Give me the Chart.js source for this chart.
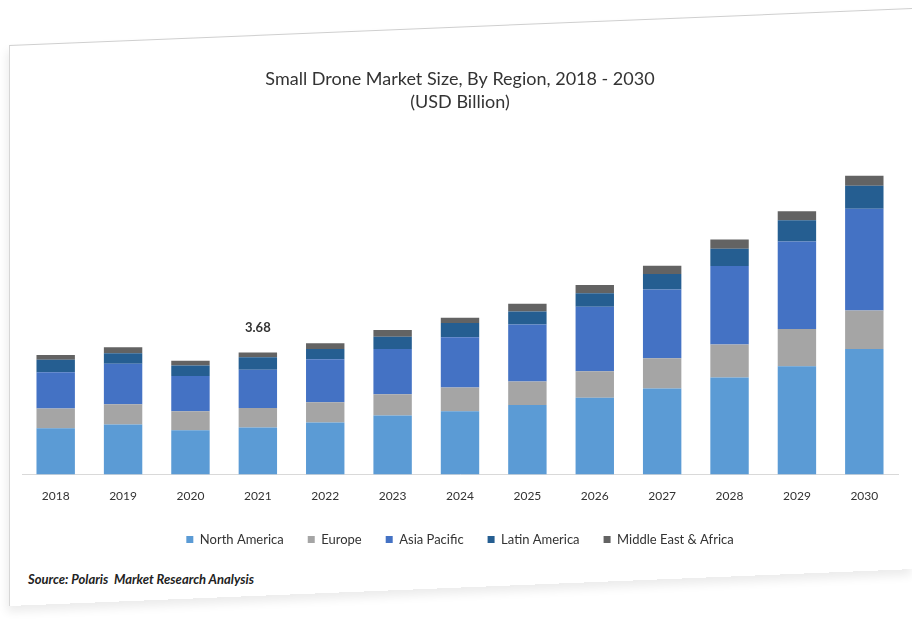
<!DOCTYPE html>
<html>
<head>
<meta charset="utf-8">
<script src="https://cdn.jsdelivr.net/npm/chart.js@4"></script>
<style>
  html, body { margin:0; padding:0; background:#fff; }
  body { width:912px; height:639px; position:relative; overflow:hidden; font-family:Lato, "Open Sans", sans-serif; }
  /* 紙の縁（少し傾いた枠） */
  .paper {
    position:absolute; left:9px; top:45px; width:903px; height:560px;
    border-top:1px solid #cfcfcf; border-left:1px solid #d6d6d6;
    transform-origin:top left; transform:skewY(-2.34deg);
    box-shadow:-2px 6px 10px rgba(0,0,0,.08);
  }
  #wrap { position:absolute; left:0; top:0; width:912px; height:562px; }
  .source {
    position:absolute; left:28px; top:571px;
    font-family:Lato, sans-serif; font-weight:bold; font-style:italic;
    font-size:13px; color:#222;
  }
</style>
</head>
<body>
<div class="paper"></div>
<div id="wrap"><canvas id="chartDrone"></canvas></div>
<div class="source">Source: Polaris&nbsp; Market Research Analysis</div>

<script>
// ====== データ（USD Billion）======
const years = ['2018','2019','2020','2021','2022','2023','2024','2025','2026','2027','2028','2029','2030'];
const northAmerica     = [1.40,1.51,1.34,1.42,1.57,1.78,1.91,2.10,2.32,2.60,2.93,3.27,3.79];
const europe           = [0.59,0.61,0.57,0.59,0.61,0.64,0.72,0.71,0.80,0.91,0.99,1.12,1.16];
const asiaPacific      = [1.10,1.22,1.06,1.15,1.30,1.37,1.51,1.72,1.94,2.07,2.37,2.64,3.07];
const latinAmerica     = [0.37,0.32,0.32,0.38,0.31,0.37,0.43,0.39,0.41,0.47,0.52,0.64,0.69];
const middleEastAfrica = [0.15,0.18,0.14,0.14,0.17,0.20,0.16,0.23,0.25,0.25,0.28,0.27,0.30];

// 合計ラベルを付ける年
const labelYear = '2021';
const labelText = '3.68';

// 2021 の上に合計値を書くだけのプラグイン
const totalLabel = {
  id:'totalLabel',
  afterDatasetsDraw(chart){
    const i = chart.data.labels.indexOf(labelYear);
    if(i < 0) return;
    const last = chart.getDatasetMeta(chart.data.datasets.length-1).data[i];
    const ctx = chart.ctx;
    ctx.save();
    ctx.font = 'bold 13px Lato, sans-serif';
    ctx.fillStyle = '#333';
    ctx.textAlign = 'center';
    ctx.textBaseline = 'bottom';
    ctx.fillText(labelText, last.x, last.y - 18);
    ctx.restore();
  }
};

const bar = (label, data, color) => ({ label, data, backgroundColor:color, borderWidth:0 });

new Chart(document.getElementById('chartDrone').getContext('2d'), {
  type:'bar',
  data:{
    labels:years,
    datasets:[
      bar('North America',          northAmerica,     '#5B9BD5'),
      bar('Europe',                 europe,           '#A5A5A5'),
      bar('Asia Pacific',           asiaPacific,      '#4472C4'),
      bar('Latin America',          latinAmerica,     '#255E91'),
      bar('Middle East & Africa',   middleEastAfrica, '#636363'),
    ]
  },
  options:{
    responsive:true,
    maintainAspectRatio:false,
    animation:false,
    layout:{ padding:{ top:68, left:22, right:14, bottom:6 } },
    datasets:{ bar:{ categoryPercentage:0.6, barPercentage:0.95 } },
    plugins:{
      title:{
        display:true,
        text:['Small Drone Market Size, By Region, 2018 - 2030','(USD Billion)'],
        color:'#333',
        font:{ family:'Lato', size:18, weight:'normal', lineHeight:1.25 },
        padding:{ top:0, bottom:30 }
      },
      legend:{
        position:'bottom',
        labels:{ color:'#333', boxWidth:7, boxHeight:7, padding:24, font:{ family:'Lato', size:13 } }
      },
      tooltip:{ enabled:false }
    },
    scales:{
      x:{
        stacked:true,
        grid:{ display:false },
        border:{ display:true, color:'#d9d9d9' },
        ticks:{ color:'#333', font:{ family:'Lato', size:12 }, padding:6 }
      },
      y:{
        stacked:true,
        display:false,
        min:0, max:10
      }
    }
  },
  plugins:[totalLabel]
});
</script>
</body>
</html>
